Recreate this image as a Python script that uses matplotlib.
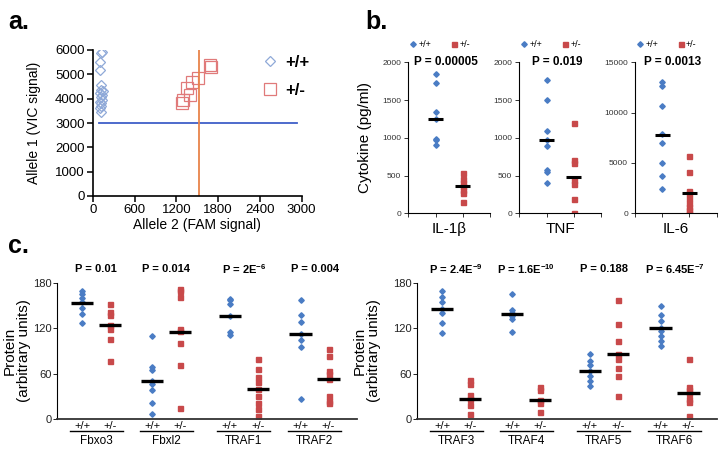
import matplotlib
matplotlib.use("Agg")
import matplotlib.pyplot as plt
import numpy as np

plt.rcParams['font.family'] = ['Liberation Sans', 'DejaVu Sans']
plt.rcParams['mathtext.default'] = 'regular'

W, H = 724, 450
BLUE = '#4a7cc4'
RED = '#c8494a'

# ---- panel a: allelic discrimination
wt_fam = [130, 120, 100, 95, 120, 110, 140, 100, 130, 115, 125, 105, 110, 120, 100, 115]
wt_vic = [5930, 5880, 5520, 5180, 4560, 4360, 4300, 4220, 4150, 4080, 3950, 3880, 3810, 3700, 3600, 3470]
het_fam = [1276, 1290, 1396, 1348, 1420, 1515, 1683, 1690]
het_vic = [3835, 3945, 4150, 4425, 4700, 4835, 5385, 5315]
vic_cut = 3000
fam_cut = 1530

# ---- panel b: cytokines
cyto_names = ['IL-1\u03b2', 'TNF', 'IL-6']
cyto_p = ['P = 0.00005', 'P = 0.019', 'P = 0.0013']
cyto_ymax = [2000, 2000, 15000]
cyto_ticks = [[0, 500, 1000, 1500, 2000], [0, 500, 1000, 1500, 2000], [0, 5000, 10000, 15000]]
cyto_wt = [[1840, 1720, 1345, 1250, 985, 970, 905],
           [1760, 1500, 1095, 975, 885, 570, 545, 400],
           [13080, 12680, 10700, 7850, 6950, 5030, 3710, 2450]]
cyto_het = [[540, 455, 405, 355, 310, 265, 145],
            [1195, 710, 665, 440, 385, 190, 0],
            [5700, 4140, 2250, 1990, 1490, 990, 660, 330, 0]]
cyto_wt_med = [1250, 970, 7800]
cyto_het_med = [355, 480, 2000]

# ---- panel c: proteins
prot_names_l = ['Fbxo3', 'Fbxl2', 'TRAF1', 'TRAF2']
prot_p_l = ['P = 0.01', 'P = 0.014', r'P = 2E$^{-6}$', 'P = 0.004']
prot_wt_l = [[169, 165, 160, 155, 147, 139, 127],
             [110, 69, 65, 50, 46, 38, 21, 7],
             [159, 157, 152, 136, 115, 111],
             [157, 137, 128, 113, 104, 95, 27]]
prot_het_l = [[152, 141, 137, 124, 119, 106, 77],
              [172, 169, 161, 119, 116, 100, 71, 14],
              [80, 66, 56, 49, 40, 31, 21, 13, 4],
              [92, 84, 64, 60, 53, 31, 24, 21]]
prot_wt_med_l = [154, 50, 136, 113]
prot_het_med_l = [124, 115, 40, 53]

prot_names_r = ['TRAF3', 'TRAF4', 'TRAF5', 'TRAF6']
prot_p_r = [r'P = 2.4E$^{-9}$', r'P = 1.6E$^{-10}$', 'P = 0.188', r'P = 6.45E$^{-7}$']
prot_wt_r = [[169, 161, 155, 145, 140, 127, 114],
             [165, 144, 140, 136, 133, 115],
             [86, 77, 72, 64, 57, 50, 44],
             [149, 137, 130, 121, 116, 110, 103, 97]]
prot_het_r = [[51, 46, 32, 26, 18, 7],
              [43, 38, 25, 21, 9],
              [158, 126, 103, 86, 79, 68, 57, 31],
              [79, 43, 38, 35, 26, 22, 4]]
prot_wt_med_r = [145, 139, 64, 120]
prot_het_med_r = [26, 25, 86, 35]

group_centers = [1.4, 3.9, 6.67, 9.2]
genotypes = ['+/+', '+/-']


def px_axes(fig, x0, x1, ytop, ybot):
    return fig.add_axes([x0 / W, 1 - ybot / H, (x1 - x0) / W, (ybot - ytop) / H])


fig = plt.figure(figsize=(W / 100, H / 100), dpi=100)

# ================= a =================
ax = px_axes(fig, 93, 301.7, 50, 196)
ax.plot(wt_fam, wt_vic, 'D', ms=5.5, mfc='none', mec='#8fa9d8', mew=0.9, label='+/+')
ax.plot(het_fam, het_vic, 's', ms=9, mfc='none', mec='#e07a7a', mew=0.9, label='+/-')
ax.axhline(vic_cut, xmin=0.03, xmax=0.977, color='#3f5fc8', lw=1.3)
ax.axvline(fam_cut, ymin=0.01, ymax=1.0, color='#e8834a', lw=1.3)
ax.set_xlim(0, 3000)
ax.set_ylim(0, 6000)
ax.set_xticks([0, 600, 1200, 1800, 2400, 3000])
ax.set_yticks(range(0, 6001, 1000))
for s in ['top', 'right']:
    ax.spines[s].set_visible(False)
for s in ['left', 'bottom']:
    ax.spines[s].set_linewidth(1.2)
ax.tick_params(labelsize=9.5, length=4, width=1.1, direction='out', pad=2)
ax.set_xlabel('Allele 2 (FAM signal)', fontsize=10, labelpad=1)
ax.set_ylabel('Allele 1 (VIC signal)', fontsize=10)
ax.yaxis.set_label_coords(-0.25, 0.5)
ax.legend(loc='upper left', bbox_to_anchor=(0.73, 1.07), frameon=False,
          handletextpad=0.3, handlelength=1.2, labelspacing=0.8,
          prop={'weight': 'bold', 'size': 12})
fig.text(8 / W, 1 - 22 / H, 'a.', fontsize=18, fontweight='bold', va='center')

# ================= b =================
b_lefts = [408.3, 519.3, 635]
for i in range(3):
    ax = px_axes(fig, b_lefts[i], b_lefts[i] + 81.7, 62.3, 213.3)
    ax.plot([1] * len(cyto_wt[i]), cyto_wt[i], 'D', ms=2.8, color=BLUE, ls='none', label='+/+')
    ax.plot([2] * len(cyto_het[i]), cyto_het[i], 's', ms=3.6, color=RED, ls='none', label='+/-')
    ax.hlines([cyto_wt_med[i], cyto_het_med[i]], [0.72, 1.72], [1.28, 2.28], color='black', lw=2.2, zorder=3)
    ax.set_xlim(0, 3)
    ax.set_ylim(0, cyto_ymax[i])
    ax.set_xticks([0, 1, 2, 3])
    ax.set_xticklabels([])
    ax.set_yticks(cyto_ticks[i])
    for s in ['top', 'right']:
        ax.spines[s].set_visible(False)
    for s in ['left', 'bottom']:
        ax.spines[s].set_linewidth(0.8)
    ax.tick_params(labelsize=6, length=3, width=0.7, direction='out', pad=2, colors='#333333')
    ax.set_xlabel(cyto_names[i], fontsize=11, labelpad=1)
    ax.text(0.46, 1.0, cyto_p[i], transform=ax.transAxes, ha='center', va='center',
            fontsize=8.5, fontweight='bold')
    ax.legend(loc='center', bbox_to_anchor=(0.38, 1.115), ncol=2, frameon=False,
              fontsize=6.5, handletextpad=0.1, handlelength=1.0, columnspacing=2.0,
              markerscale=1.0, borderaxespad=0)
    if i == 0:
        ax.set_ylabel('Cytokine (pg/ml)', fontsize=11)
        ax.yaxis.set_label_coords(-0.44, 0.5)
fig.text(365 / W, 1 - 22 / H, 'b.', fontsize=18, fontweight='bold', va='center')


# ================= c =================
def protein_panel(x0, names, pvals, wt, het, wt_med, het_med):
    ax = px_axes(fig, x0, x0 + 300, 283, 419)
    tr = ax.get_xaxis_transform()
    for g, c in enumerate(group_centers):
        xw, xh = c - 0.5, c + 0.5
        ax.plot([xw] * len(wt[g]), wt[g], 'D', ms=2.8, color=BLUE, ls='none')
        ax.plot([xh] * len(het[g]), het[g], 's', ms=3.6, color=RED, ls='none')
        ax.hlines([wt_med[g], het_med[g]], [xw - 0.4, xh - 0.4], [xw + 0.4, xh + 0.4],
                  color='black', lw=2.4, zorder=3)
        ax.text(xw, -0.05, genotypes[0], transform=tr, ha='center', va='center', fontsize=8)
        ax.text(xh, -0.05, genotypes[1], transform=tr, ha='center', va='center', fontsize=8)
        ax.plot([c - 0.95, c + 0.95], [-0.09, -0.09], transform=tr, color='black', lw=1.0, clip_on=False)
        ax.text(c, -0.165, names[g], transform=tr, ha='center', va='center', fontsize=8.5)
        ax.text(c, 1.1, pvals[g], transform=tr, ha='center', va='center', fontsize=8, fontweight='bold')
    ax.set_xlim(0, 300 / 28)
    ax.set_ylim(0, 180)
    ax.set_yticks([0, 60, 120, 180])
    ax.set_xticks([])
    for s in ['top', 'right']:
        ax.spines[s].set_visible(False)
    ax.spines['left'].set_linewidth(0.8)
    ax.spines['bottom'].set_linewidth(1.3)
    ax.spines['bottom'].set_color('#333333')
    ax.tick_params(labelsize=8, length=3, width=0.7, direction='out', pad=1, colors='#222222')
    ax.set_ylabel('Protein\n(arbitrary units)', fontsize=11, linespacing=1.05)
    return ax


axl = protein_panel(57, prot_names_l, prot_p_l, prot_wt_l, prot_het_l, prot_wt_med_l, prot_het_med_l)
axl.yaxis.set_label_coords(-0.085, 0.5)
axr = protein_panel(417, prot_names_r, prot_p_r, prot_wt_r, prot_het_r, prot_wt_med_r, prot_het_med_r)
axr.yaxis.set_label_coords(-0.12, 0.5)
fig.text(8 / W, 1 - 246 / H, 'c.', fontsize=18, fontweight='bold', va='center')

fig.savefig('out.png', dpi=100)
